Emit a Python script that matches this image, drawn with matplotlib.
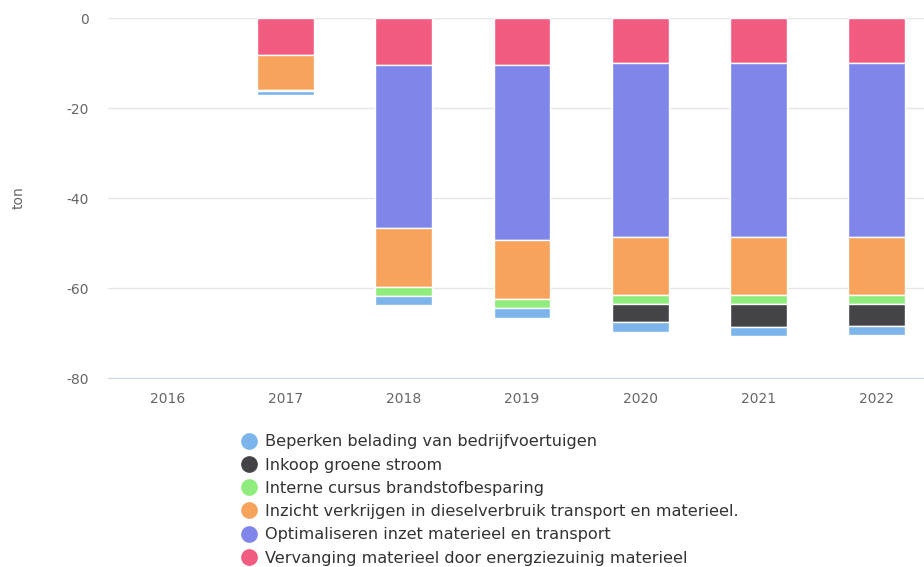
import numpy as np
import matplotlib.pyplot as plt
from matplotlib.lines import Line2D

plt.rcParams['font.family'] = ['DejaVu Sans']
plt.rcParams['axes.unicode_minus'] = False

# jaren en reductie per maatregel (ton, negatief)
years = ["2016", "2017", "2018", "2019", "2020", "2021", "2022"]

vervanging = [0, -8.3, -10.4, -10.4, -10.0, -10.0, -10.0]
optimaliseren = [0, 0, -36.3, -38.9, -38.7, -38.7, -38.7]
inzicht = [0, -7.7, -13.0, -13.1, -12.9, -12.9, -12.9]
cursus = [0, -0.3, -2.1, -2.0, -2.0, -2.0, -2.0]
groene_stroom = [0, 0, 0, 0, -3.9, -5.0, -4.8]
belading = [0, -0.9, -2.0, -2.2, -2.3, -2.1, -2.0]

labels = [
    "Beperken belading van bedrijfvoertuigen",
    "Inkoop groene stroom",
    "Interne cursus brandstofbesparing",
    "Inzicht verkrijgen in dieselverbruik transport en materieel.",
    "Optimaliseren inzet materieel en transport",
    "Vervanging materieel door energziezuinig materieel",
]
colors = ["#7cb5ec", "#434348", "#90ed7d", "#f7a35c", "#8085e9", "#f15c80"]
series = [belading, groene_stroom, cursus, inzicht, optimaliseren, vervanging]

fig = plt.figure(figsize=(9.24, 5.67), dpi=100)
ax = fig.add_axes([108 / 924, 1 - 378 / 567, 828 / 924, 360 / 567])

x = np.arange(len(years))
bottom = np.zeros(len(years))
# stapelen vanaf 0 naar beneden: eerst vervanging, als laatste belading
for vals, col in zip(series[::-1], colors[::-1]):
    vals = np.array(vals)
    keep = vals != 0
    ax.bar(x[keep], vals[keep], bottom=bottom[keep], width=0.48, color=col,
           edgecolor="white", linewidth=1, zorder=3)
    bottom += vals

ax.set_xlim(-0.5, 6.5)
ax.set_ylim(-80, 0)
ax.set_yticks([0, -20, -40, -60, -80])
ax.set_xticks(x)
ax.set_xticklabels(years)
ax.tick_params(axis="both", length=0, labelsize=10, colors="#666666")
ax.tick_params(axis="y", pad=14)
ax.tick_params(axis="x", pad=10)
ax.grid(axis="y", color="#e6e6e6", linewidth=1, zorder=0)
for s in ["top", "right", "left"]:
    ax.spines[s].set_visible(False)
ax.spines["bottom"].set_color("#ccd6eb")
ax.spines["bottom"].set_zorder(4)
ax.set_ylabel("ton", color="#666666", fontsize=10)
ax.yaxis.set_label_coords(-82 / 828, 0.5)

handles = [Line2D([0], [0], marker="o", color="none", markerfacecolor=c,
                  markeredgecolor=c, markersize=11) for c in colors]
fig.legend(handles, labels, loc="upper left", bbox_to_anchor=(236 / 924, 1 - 428 / 567),
           frameon=False, fontsize=11.6, handlelength=0.8, handletextpad=0.6,
           labelspacing=0.51, borderaxespad=0, labelcolor="#333333")

fig.savefig("out.png", dpi=100)
